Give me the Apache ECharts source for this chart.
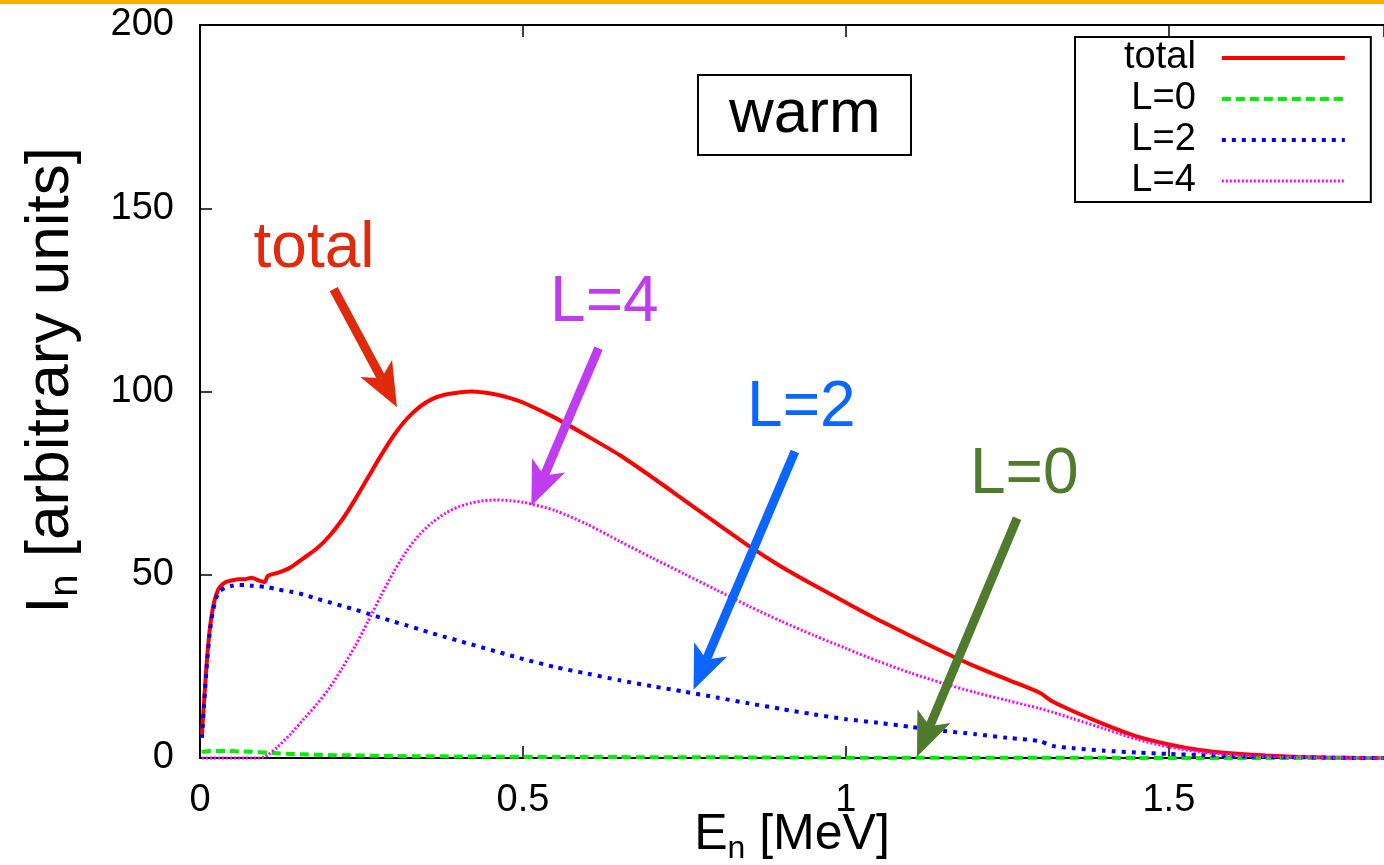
<!DOCTYPE html>
<html>
<head>
<meta charset="utf-8">
<script src="https://cdn.jsdelivr.net/npm/echarts@6/dist/echarts.min.js"></script>
<style>
html, body { margin: 0; padding: 0; background: #fff; }
#main { width: 1384px; height: 865px; }
</style>
</head>
<body>
<div id="main"></div>
<script>
// neutron energy grid (MeV)
var energy = [0.003, 0.005, 0.01, 0.015, 0.02, 0.025, 0.03, 0.04, 0.05, 0.06, 0.07, 0.08, 0.09, 0.1, 0.105,
  0.12, 0.14, 0.16, 0.18, 0.2, 0.22, 0.24, 0.26, 0.28, 0.3, 0.32, 0.34, 0.36, 0.38, 0.4, 0.42, 0.44, 0.46, 0.48,
  0.5, 0.55, 0.6, 0.65, 0.7, 0.75, 0.8, 0.85, 0.9, 0.95, 1.0, 1.05, 1.1, 1.15, 1.2, 1.25, 1.3, 1.32, 1.35, 1.4,
  1.45, 1.5, 1.55, 1.6, 1.65, 1.7, 1.75, 1.8, 1.84];

var totalVals = [6.5, 12, 25, 35, 41, 44.5, 46.5, 48, 48.5, 48.8, 48.8, 49.2, 48.5, 48, 49.7,
  50.5, 52, 54.5, 57, 60.5, 65, 70.5, 76.5, 82.5, 88, 92.5, 95.8, 98, 99.2, 99.7, 100, 99.7, 99.1, 98.2,
  97, 92.8, 87.8, 82.6, 76.6, 70.3, 64, 57.8, 52.2, 47.2, 42.4, 37.7, 33.3, 29, 25, 21.4, 17.8, 15.4, 12.9, 9.2,
  5.9, 3.7, 2.1, 1.2, 0.7, 0.3, 0.1, 0, 0];

var l0Vals = [1.6, 1.7, 1.8, 1.9, 1.9, 1.9, 1.9, 1.9, 1.9, 1.8, 1.8, 1.7, 1.6, 1.5, 1.4,
  1.3, 1.1, 1.0, 0.9, 0.8, 0.75, 0.7, 0.65, 0.6, 0.55, 0.5, 0.5, 0.45, 0.45, 0.4, 0.4, 0.35, 0.35, 0.35,
  0.3, 0.3, 0.25, 0.25, 0.2, 0.2, 0.2, 0.15, 0.15, 0.15, 0.1, 0.1, 0.1, 0.1, 0.05, 0.05, 0.05, 0.05, 0.05, 0.05,
  0, 0, 0, 0, 0, 0, 0, 0, 0];

var l2Vals = [5.5, 11, 24, 34, 40, 43.5, 45.5, 46.5, 47, 47.2, 47.2, 47, 46.9, 46.7, 46.6,
  46, 45.4, 44.6, 43.5, 42.5, 41.5, 40.5, 39.4, 38.3, 37.2, 36.2, 35.1, 34, 33, 32, 31, 30, 29, 28,
  27, 24.8, 23, 21.2, 19.6, 18.1, 16.5, 14.9, 13.4, 11.9, 10.6, 9.6, 8.5, 7.4, 6.5, 5.5, 4.6, 3.3, 2.7, 2,
  1.5, 1.1, 0.8, 0.5, 0.3, 0.2, 0.1, 0, 0];

var l4Vals = [0, 0, 0, 0, 0, 0, 0, 0, 0, 0, 0, 0, 0, 0.3, 0.8,
  3, 6.5, 10.5, 14.5, 19, 24.5, 30.5, 37.2, 44.2, 50.8, 56.5, 61, 64.3, 66.8, 68.5, 69.6, 70.2, 70.4, 70.2,
  69.8, 67.5, 63.7, 59.1, 54.6, 50.2, 45.8, 41.4, 37.3, 33.5, 29.9, 26.4, 23.2, 20.4, 17.9, 15.7, 13.5, 12.5, 10.8, 8,
  5.1, 3, 1.6, 0.8, 0.4, 0.2, 0.1, 0, 0];

var seriesNames = ['total', 'L=0', 'L=2', 'L=4'];
var seriesColors = ['#ff0000', '#00ee00', '#0000ff', '#ff00ff'];
var xTicks = [0, 0.5, 1, 1.5];
var yTicks = [0, 50, 100, 150, 200];

// annotations (data coordinates)
var annoLabels = ['total', 'L=4', 'L=2', 'L=0'];
var annoColors = ['#e1290b', '#bf3cf0', '#0a66ff', '#507a2c'];
var annoTextAt = [[0.1765, 138.9], [0.626, 124.1], [0.931, 95.5], [1.276, 77.2]];
var arrowFrom = [[0.207, 127.9], [0.617, 111.8], [0.921, 83.6], [1.265, 65.4]];
var arrowTo = [[0.305, 95.7], [0.513, 68.8], [0.764, 18.6], [1.110, 0.35]];

var FONT = '"Liberation Sans", Arial, Helvetica, sans-serif';

function pairs(ys) {
  return energy.map(function (e, i) { return [e, ys[i]]; });
}

var chart = echarts.init(document.getElementById('main'));

var axisLine = { onZero: false, lineStyle: { color: '#000', width: 2 } };
var axisTick = { inside: true, length: 12, lineStyle: { color: '#000', width: 1.5 } };

var lineStyles = [
  { color: seriesColors[0], width: 4 },
  { color: seriesColors[1], width: 4, type: [9, 5] },
  { color: seriesColors[2], width: 4, type: [4, 6] },
  { color: seriesColors[3], width: 3, type: [2, 2] }
];

var option = {
  animation: false,
  textStyle: { fontFamily: FONT },
  title: {
    text: 'warm',
    left: 698,
    top: 75,
    padding: [9, 31],
    borderColor: '#000',
    borderWidth: 2,
    textStyle: { fontFamily: FONT, fontSize: 62, fontWeight: 'normal', color: '#000' }
  },
  legend: {
    data: seriesNames.map(function (n, i) {
      return { name: n, lineStyle: lineStyles[i] };
    }),
    orient: 'vertical',
    align: 'right',
    left: 1075,
    top: 37,
    itemWidth: 123,
    itemHeight: 14,
    itemGap: 3,
    padding: [2, 24, 2, 49],
    borderColor: '#000',
    borderWidth: 2,
    backgroundColor: '#fff',
    selectedMode: false,
    itemStyle: { opacity: 0 },
    textStyle: { fontFamily: FONT, fontSize: 38, color: '#000', padding: [0, 21, 0, 0] }
  },
  grid: { left: 200, right: 0, top: 25, bottom: 107, containLabel: false, outerBoundsMode: 'none' },
  xAxis: [{
    type: 'value',
    min: xTicks[0],
    max: 1.833,
    interval: 0.5,
    position: 'bottom',
    axisLine: axisLine,
    axisTick: axisTick,
    splitLine: { show: false },
    axisLabel: { showMaxLabel: false, margin: 24, fontSize: 38, color: '#000', fontFamily: FONT },
    name: '{m|E}{s|n}{m| [MeV]}',
    nameLocation: 'middle',
    nameGap: 47,
    nameMoveOverlap: false,
    nameTextStyle: {
      color: '#000',
      rich: {
        m: { fontSize: 50, fontFamily: FONT, color: '#000', lineHeight: 60 },
        s: { fontSize: 32, fontFamily: FONT, color: '#000', lineHeight: 32, verticalAlign: 'bottom' }
      }
    }
  }, {
    type: 'value',
    min: xTicks[0],
    max: 1.833,
    interval: 0.5,
    position: 'top',
    axisLine: axisLine,
    axisTick: axisTick,
    splitLine: { show: false },
    axisLabel: { show: false }
  }],
  yAxis: {
    type: 'value',
    min: yTicks[0],
    max: yTicks[yTicks.length - 1],
    interval: 50,
    position: 'left',
    axisLine: axisLine,
    axisTick: axisTick,
    splitLine: { show: false },
    axisLabel: { margin: 26, fontSize: 38, color: '#000', fontFamily: FONT },
    name: '{m|I}{s|n}{m| [arbitrary units]}',
    nameLocation: 'middle',
    nameGap: 114,
    nameMoveOverlap: false,
    nameTextStyle: {
      color: '#000',
      padding: [0, 0, 0, 22],
      rich: {
        m: { fontSize: 62, fontFamily: FONT, color: '#000', lineHeight: 70 },
        s: { fontSize: 40, fontFamily: FONT, color: '#000', lineHeight: 40, verticalAlign: 'bottom' }
      }
    }
  },
  series: [totalVals, l0Vals, l2Vals, l4Vals].map(function (vals, i) {
    return {
      name: seriesNames[i],
      type: 'line',
      symbol: 'none',
      clip: false,
      smooth: 0.25,
      lineStyle: lineStyles[i],
      itemStyle: { color: seriesColors[i] },
      data: pairs(vals)
    };
  })
};
chart.setOption(option);

// arrows and labels placed through the axes
var graphics = [{ type: 'rect', shape: { x: 0, y: 0, width: 1384, height: 4 }, style: { fill: '#ffad00' }, z: 100 }];
annoLabels.forEach(function (txt, i) {
  var p = chart.convertToPixel({ seriesIndex: 0 }, annoTextAt[i]);
  graphics.push({
    type: 'text', x: p[0], y: p[1], z: 100,
    style: { text: txt, fill: annoColors[i], fontSize: 64, fontFamily: FONT, align: 'center', verticalAlign: 'middle' }
  });
  var a = chart.convertToPixel({ seriesIndex: 0 }, arrowFrom[i]);
  var b = chart.convertToPixel({ seriesIndex: 0 }, arrowTo[i]);
  var dx = b[0] - a[0], dy = b[1] - a[1];
  var len = Math.sqrt(dx * dx + dy * dy);
  var ux = dx / len, uy = dy / len, px = -uy, py = ux;
  var headL = 44, headW = 18, notch = 11;
  var back = [b[0] - headL * ux, b[1] - headL * uy];
  var mid = [b[0] - (headL - notch) * ux, b[1] - (headL - notch) * uy];
  graphics.push({
    type: 'line', z: 100,
    shape: { x1: a[0], y1: a[1], x2: mid[0], y2: mid[1] },
    style: { stroke: annoColors[i], lineWidth: 9 }
  });
  graphics.push({
    type: 'polygon', z: 100,
    shape: { points: [b, [back[0] + headW * px, back[1] + headW * py], mid, [back[0] - headW * px, back[1] - headW * py]] },
    style: { fill: annoColors[i] }
  });
});
chart.setOption({ graphic: graphics });
</script>
</body>
</html>
